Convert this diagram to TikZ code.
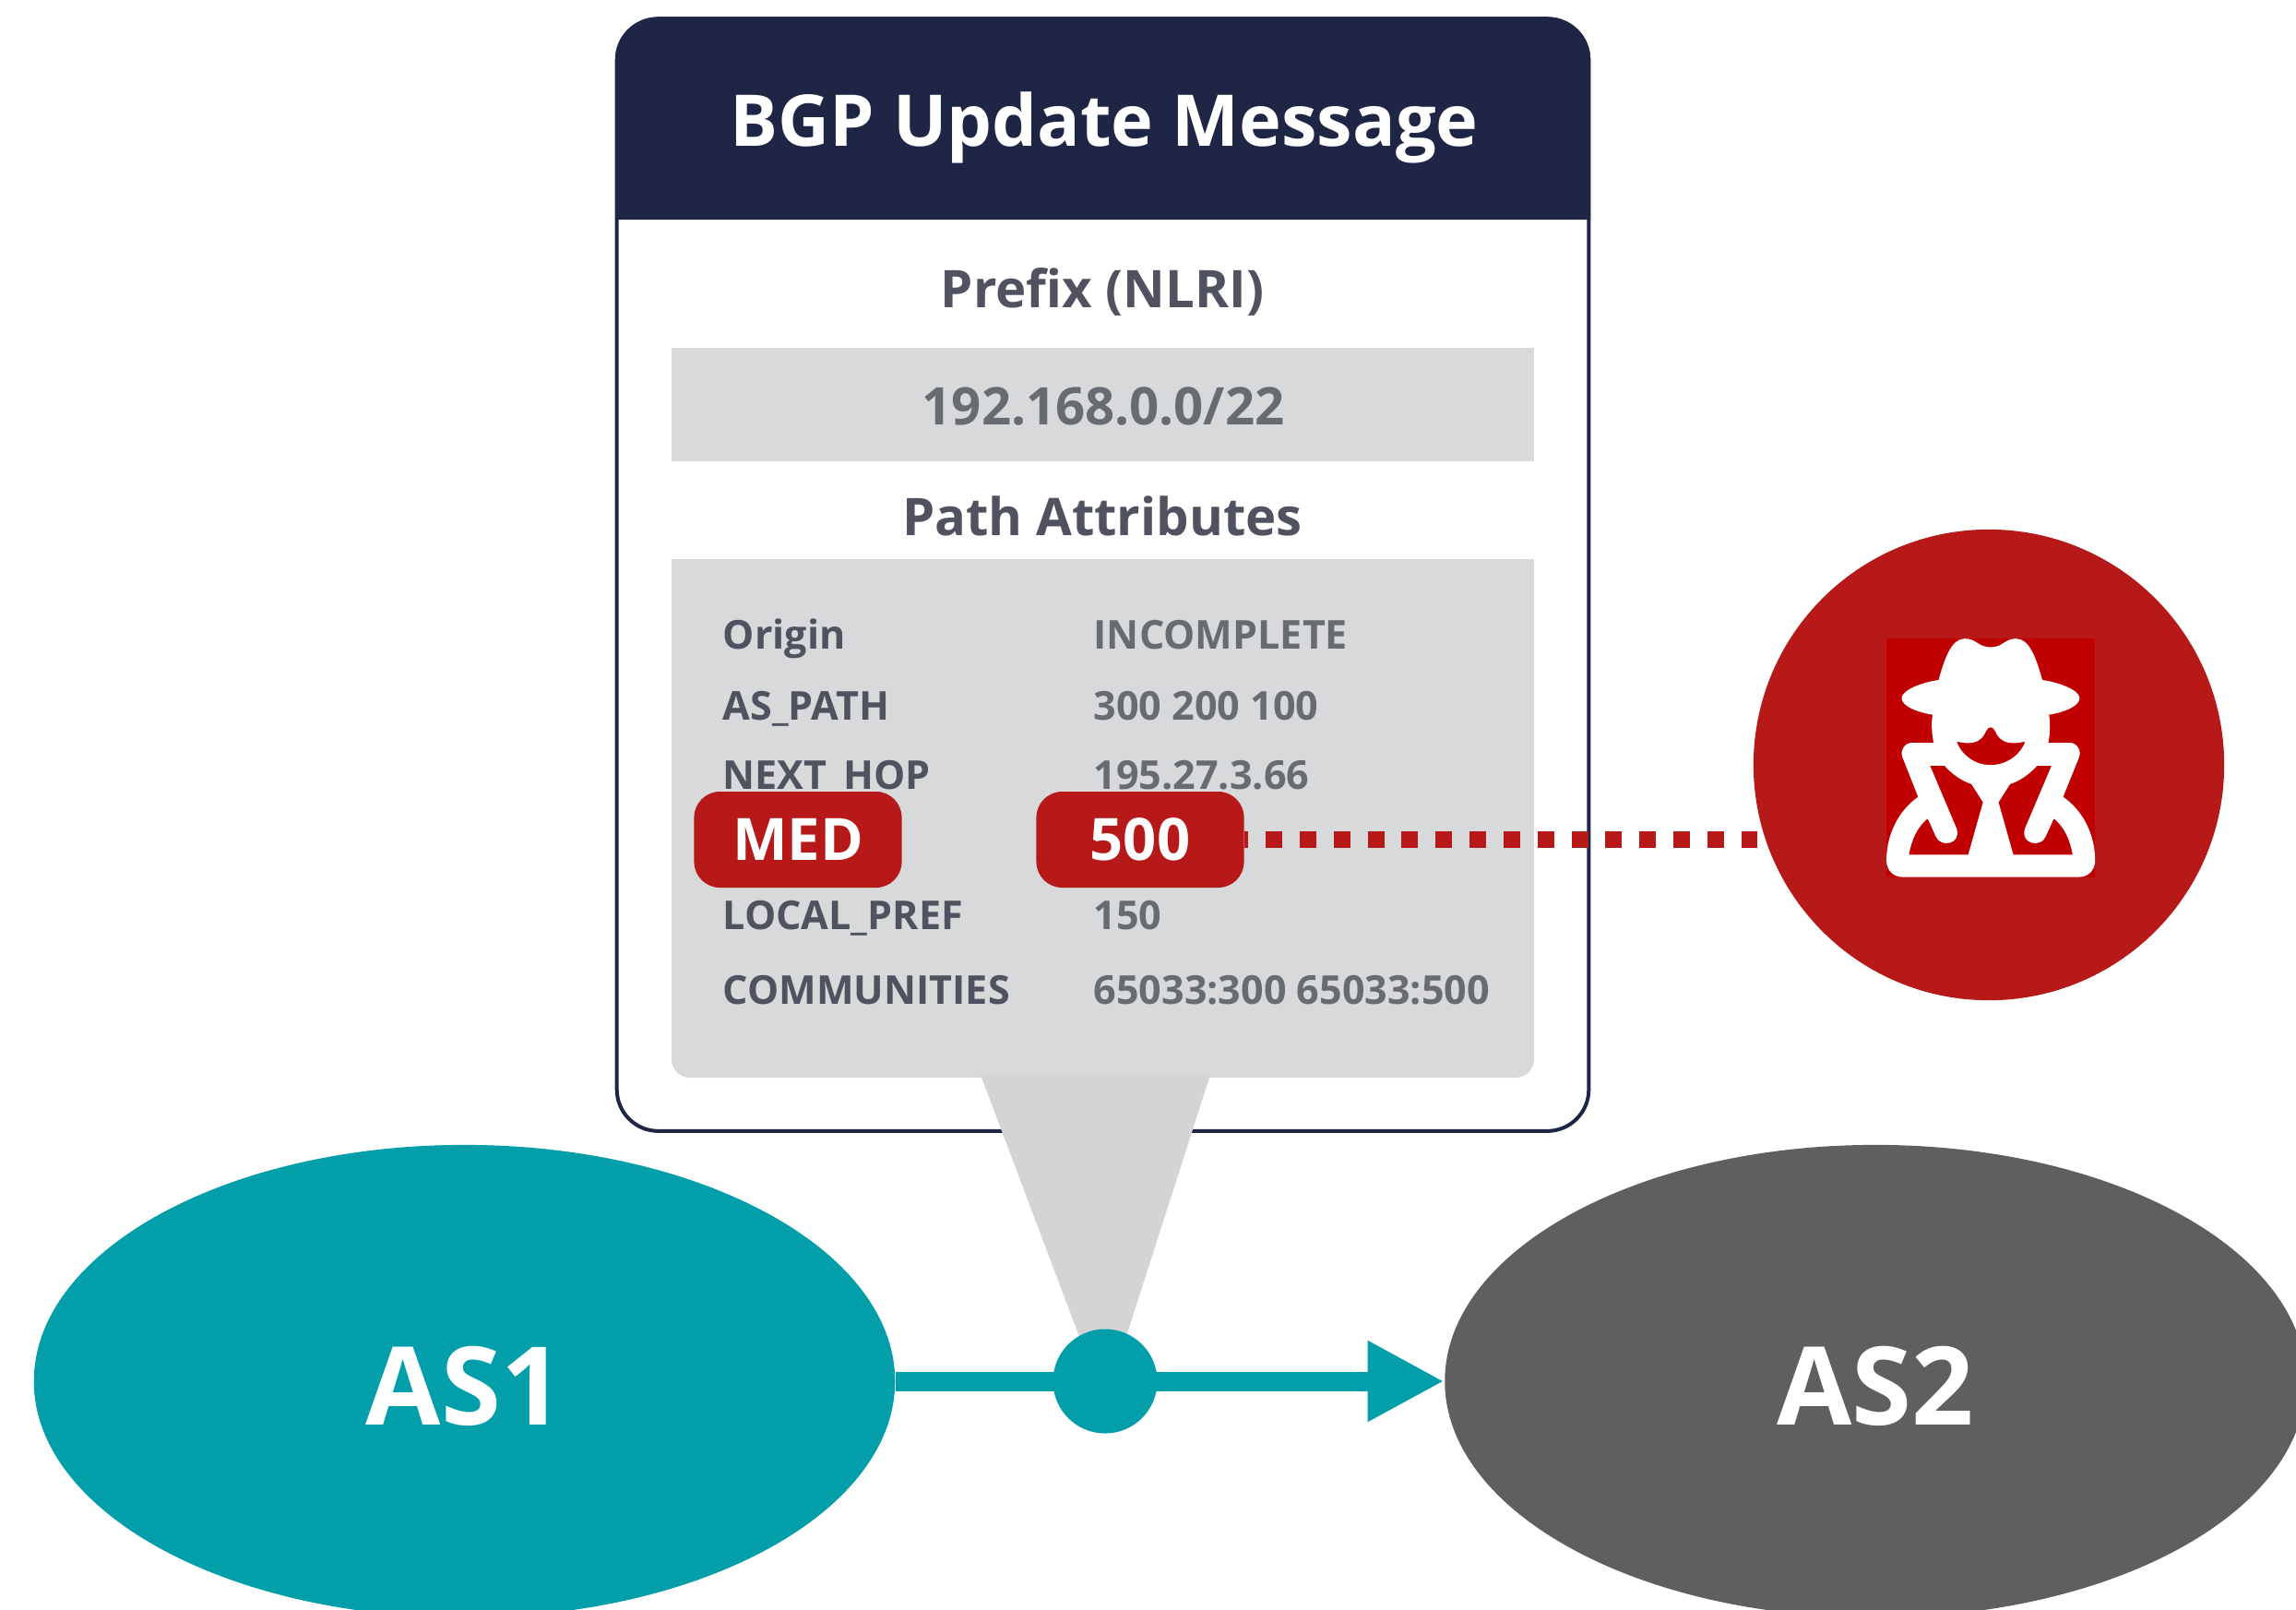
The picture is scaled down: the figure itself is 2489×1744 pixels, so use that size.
\documentclass[tikz,border=0pt]{standalone}
\usepackage{fontspec}
\setmainfont{Open Sans}
\usetikzlibrary{arrows.meta}
\usetikzlibrary{shapes.geometric}

\definecolor{navy}{HTML}{1F2545}
\definecolor{panel}{HTML}{D8D9DB}
\definecolor{slate}{HTML}{50535F}
\definecolor{fieldgrey}{HTML}{696B73}
\definecolor{alert}{HTML}{B71818}
\definecolor{iconred}{HTML}{C00000}
\definecolor{teal}{HTML}{029EAA}
\definecolor{asgrey}{HTML}{5F5F5D}
\definecolor{wedge}{HTML}{D5D3D4}

\tikzset{
    heading/.style={anchor=base, inner sep=0pt, font=\bfseries\fontsize{16}{18}\selectfont, text=slate},
    field/.style={anchor=base west, inner sep=0pt, font=\bfseries\fontsize{12.25}{14}\selectfont, text=slate},
    fieldval/.style={anchor=base west, inner sep=0pt, font=\bfseries\fontsize{12.25}{14}\selectfont, text=fieldgrey},
    pill/.style={fill=alert, text=white, rounded corners=0.28cm, minimum width=2.25cm, minimum height=1.04cm, inner sep=0pt, text height=0.45cm, font=\bfseries\fontsize{18}{20}\selectfont},
    asnode/.style={ellipse, minimum width=9.33cm, minimum height=5.12cm, inner sep=0pt, text=white, text height=0.96cm, font=\bfseries\fontsize{33.5}{36}\selectfont},
}

\begin{document}
\begin{tikzpicture}[x=0.01cm, y=-0.01cm]
            \clip (0,0) rectangle (2489,1744);

            \node[draw=navy, line width=0.04cm, rounded corners=0.45cm, minimum width=10.53cm, minimum height=12.05cm, inner sep=0pt] (msg) at (1195.5,623) {};
            \fill[navy] (667,238) [rounded corners=0.45cm] -- (667,19) -- (1724,19) [sharp corners] -- (1724,238) -- cycle;
            \node[anchor=base, inner sep=0pt, text=white, font=\bfseries\fontsize{22}{26}\selectfont] (title) at (1197,158) {BGP Update Message};

            \node[heading] (prefix) at (1195,333) {Prefix (NLRI)};
            \node[fill=panel, minimum width=9.35cm, minimum height=1.23cm, inner sep=0pt] (prefixbox) at (1195.5,438.5) {};
            \node[heading, text=fieldgrey] (prefixval) at (1196,460) {192.168.0.0/22};
            \node[heading] (attrs) at (1195,580) {Path Attributes};
            \fill[panel] (728,606) [rounded corners=0.2cm] -- (728,1168) -- (1663,1168) [sharp corners] -- (1663,606) -- cycle;

            \fill[wedge] (1063,1165) -- (1312,1165) -- (1214,1470) -- (1178,1470) -- cycle;

            \node[field] (origin) at (783,703) {Origin};
            \node[fieldval] (originval) at (1185,703) {INCOMPLETE};
            \node[field] (aspath) at (783,780) {AS\_PATH};
            \node[fieldval] (aspathval) at (1185,780) {300 200 100};
            \node[field] (nexthop) at (783,855) {NEXT\_HOP};
            \node[fieldval] (nexthopval) at (1185,855) {195.27.3.66};
            \node[field] (localpref) at (783,1007) {LOCAL\_PREF};
            \node[fieldval] (localprefval) at (1185,1007) {150};
            \node[field] (communities) at (783,1088) {COMMUNITIES};
            \node[fieldval] (communitiesval) at (1185,1088) {65033:300 65033:500};

            \node[circle, fill=alert, minimum size=5.1cm, inner sep=0pt] (spy) at (2156,829) {};
            \node[pill] (med) at (865,910) {MED};
            \node[pill] (medval) at (1236,910) {500};
            \coordinate (tap) at (1905,910);
            \draw[alert, line width=0.18cm, dash pattern=on 0.18cm off 0.188cm, dash phase=0.14cm] (medval.east) -- (tap);

            \begin{scope}[shift={(1880,560)}, x=0.00357cm, y=-0.00345cm]
                \fill[iconred] (462,383) rectangle (1095,1132);
                \fill[white, even odd rule]
                    (508,570) .. controls (508,545) and (570,520) .. (620,513)
                    .. controls (640,440) and (660,383) .. (700,383)
                    .. controls (735,383) and (740,410) .. (778,410)
                    .. controls (816,410) and (820,383) .. (855,383)
                    .. controls (895,383) and (915,440) .. (935,513)
                    .. controls (985,520) and (1048,545) .. (1048,570)
                    .. controls (1048,595) and (1000,615) .. (955,622)
                    .. controls (960,650) and (958,685) .. (953,710)
                    -- (1018,710) .. controls (1040,710) and (1055,735) .. (1046,757)
                    -- (998,880) .. controls (1060,925) and (1095,1000) .. (1095,1080)
                    .. controls (1095,1110) and (1075,1132) .. (1045,1132)
                    -- (512,1132) .. controls (482,1132) and (462,1110) .. (462,1080)
                    .. controls (462,1000) and (497,925) .. (558,880)
                    -- (511,757) .. controls (502,735) and (517,710) .. (540,710)
                    -- (605,710) .. controls (600,685) and (597,650) .. (602,622)
                    .. controls (557,615) and (508,595) .. (508,570) -- cycle
                    (675,706) .. controls (720,718) and (750,710) .. (765,672)
                    .. controls (770,658) and (786,658) .. (791,672)
                    .. controls (806,710) and (836,718) .. (883,706)
                    .. controls (868,750) and (825,780) .. (778,780)
                    .. controls (731,780) and (690,750) .. (675,706) -- cycle
                    (594,782) -- (638,782) .. controls (660,808) and (690,830) .. (720,840)
                    -- (755,897) -- (710,1062) -- (530,1062)
                    .. controls (538,1015) and (555,975) .. (587,948)
                    -- (612,1005) .. controls (625,1040) and (690,1030) .. (675,980) -- cycle
                    (963,782) -- (919,782) .. controls (897,808) and (867,830) .. (837,840)
                    -- (802,897) -- (847,1062) -- (1027,1062)
                    .. controls (1019,1015) and (1002,975) .. (970,948)
                    -- (945,1005) .. controls (932,1040) and (867,1030) .. (882,980) -- cycle;
            \end{scope}

            \node[asnode, fill=teal] (as1) at (503.5,1497) {AS1};
            \node[asnode, fill=asgrey] (as2) at (2033,1497) {AS2};
            \node[circle, fill=teal, minimum size=1.13cm, inner sep=0pt] (hop) at (1198,1497) {};
            \draw[teal, line width=0.21cm, -{Triangle[length=0.83cm, width=0.82cm]}] (as1) -- (as2);
        \end{tikzpicture}
\end{document}
